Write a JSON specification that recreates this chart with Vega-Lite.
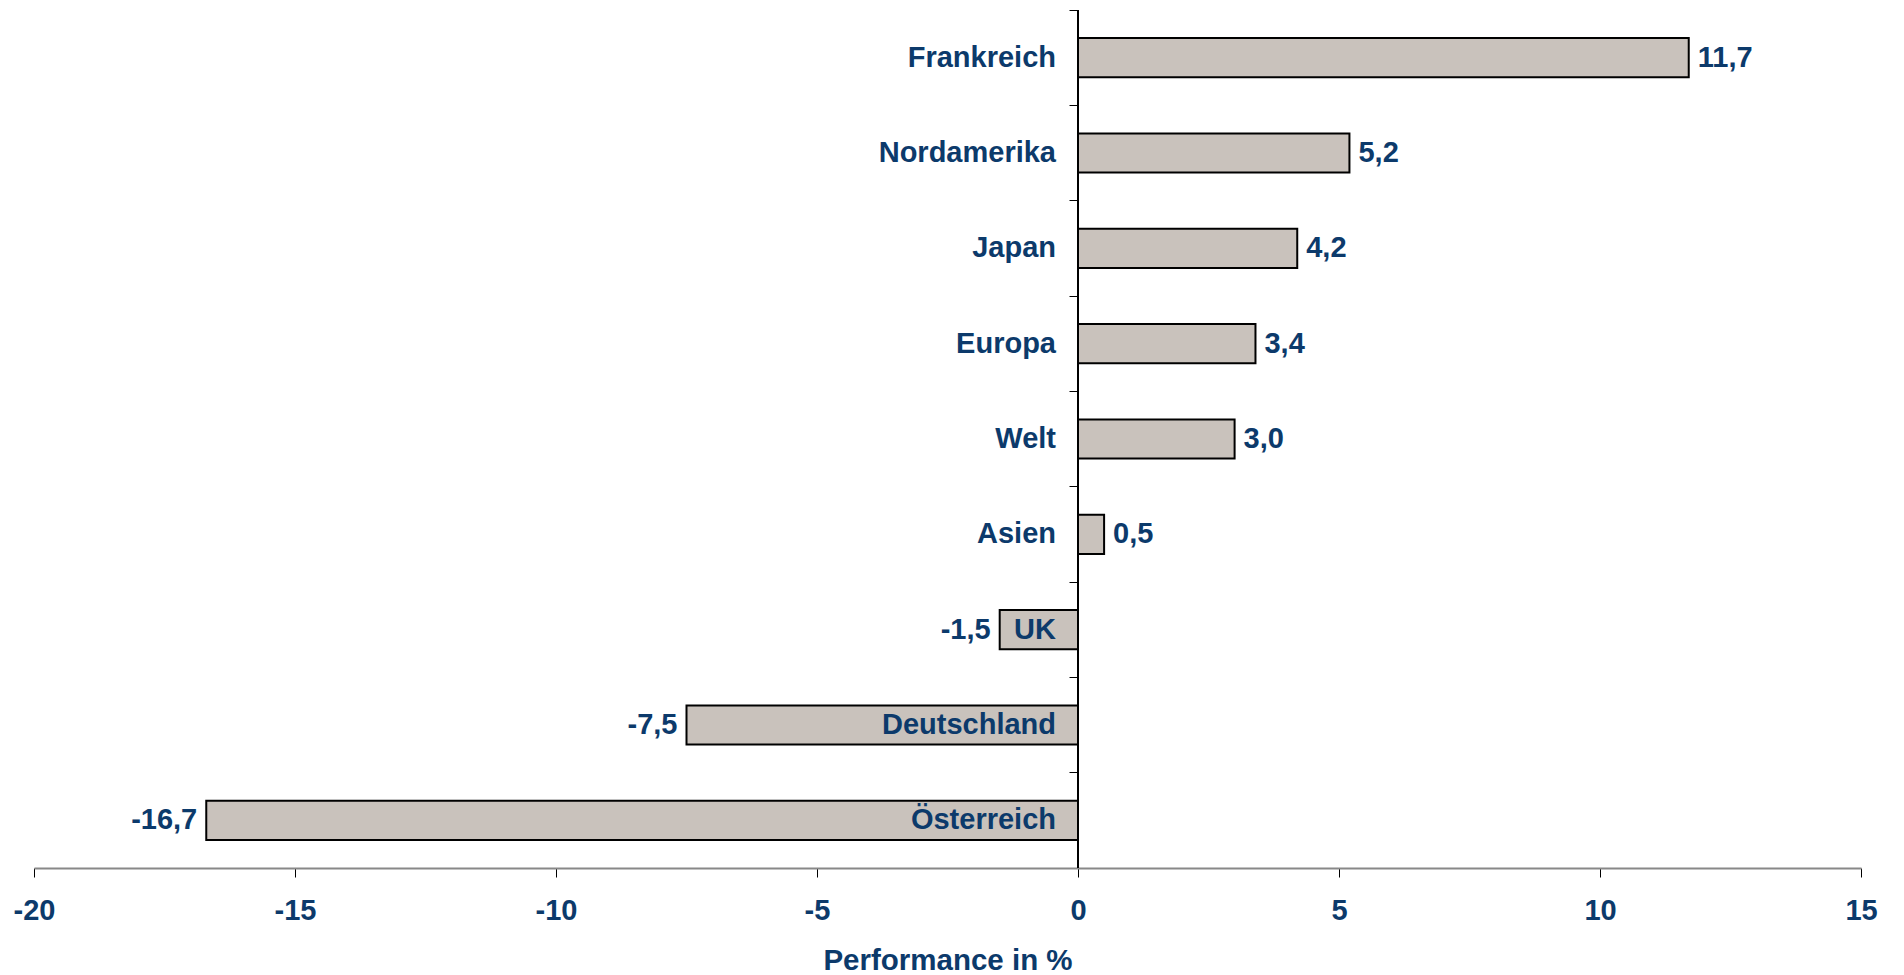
{
  "$schema": "https://vega.github.io/schema/vega-lite/v6.json",
  "width": 1827,
  "height": 858,
  "autosize": {"type": "none"},
  "padding": {"left": 34, "top": 10, "right": 43, "bottom": 107},
  "background": "#ffffff",
  "config": {
    "view": {"stroke": null},
    "font": "Liberation Sans",
    "locale": {"number": {"decimal": ",", "thousands": ".", "grouping": [3], "currency": ["", " €"], "minus": "-"}}
  },
  "data": {
    "values": [
      {"region": "Frankreich", "value": 11.7},
      {"region": "Nordamerika", "value": 5.2},
      {"region": "Japan", "value": 4.2},
      {"region": "Europa", "value": 3.4},
      {"region": "Welt", "value": 3.0},
      {"region": "Asien", "value": 0.5},
      {"region": "UK", "value": -1.5},
      {"region": "Deutschland", "value": -7.5},
      {"region": "Österreich", "value": -16.7}
    ]
  },
  "encoding": {
    "y": {
      "field": "region",
      "type": "nominal",
      "sort": null,
      "scale": {"paddingInner": 0, "paddingOuter": 0},
      "axis": {
        "title": null,
        "labels": false,
        "domain": false,
        "ticks": true,
        "tickSize": 9,
        "tickColor": "#000000",
        "tickWidth": 1,
        "bandPosition": 0,
        "offset": {"expr": "-scale('x', 0)"}
      }
    }
  },
  "layer": [
    {
      "mark": {"type": "bar", "height": {"band": 0.41}, "fill": "#C9C2BC", "stroke": "#000000", "strokeWidth": 2},
      "encoding": {
        "x": {
          "field": "value",
          "type": "quantitative",
          "scale": {"domain": [-20, 15], "nice": false, "zero": false},
          "axis": {
            "values": [-20, -15, -10, -5, 0, 5, 10, 15],
            "format": "d",
            "grid": false,
            "title": "Performance in %",
            "titleFont": "Liberation Sans",
            "titleFontSize": 29.5,
            "titleFontWeight": "bold",
            "titleColor": "#0C3A6B",
            "titlePadding": 21,
            "labelFont": "Liberation Sans",
            "labelFontSize": 29,
            "labelFontWeight": "bold",
            "labelColor": "#0C3A6B",
            "labelPadding": 19,
            "labelFlush": false,
            "domainColor": "#888888",
            "domainWidth": 2,
            "tickColor": "#000000",
            "tickSize": 9,
            "tickWidth": 1
          }
        }
      }
    },
    {
      "mark": {"type": "rule", "color": "#000000", "strokeWidth": 1.5},
      "encoding": {"x": {"datum": 0, "type": "quantitative"}, "y": null}
    },
    {
      "mark": {"type": "text", "align": "right", "baseline": "middle", "dx": -22, "fontSize": 29, "fontWeight": "bold", "color": "#0C3A6B", "font": "Liberation Sans"},
      "encoding": {
        "x": {"datum": 0, "type": "quantitative"},
        "text": {"field": "region"}
      }
    },
    {
      "transform": [{"filter": "datum.value >= 0"}],
      "mark": {"type": "text", "align": "left", "baseline": "middle", "dx": 9, "fontSize": 29, "fontWeight": "bold", "color": "#0C3A6B", "font": "Liberation Sans"},
      "encoding": {
        "x": {"field": "value", "type": "quantitative"},
        "text": {"field": "value", "type": "quantitative", "format": ".1f"}
      }
    },
    {
      "transform": [{"filter": "datum.value < 0"}],
      "mark": {"type": "text", "align": "right", "baseline": "middle", "dx": -9, "fontSize": 29, "fontWeight": "bold", "color": "#0C3A6B", "font": "Liberation Sans"},
      "encoding": {
        "x": {"field": "value", "type": "quantitative"},
        "text": {"field": "value", "type": "quantitative", "format": ".1f"}
      }
    }
  ]
}
